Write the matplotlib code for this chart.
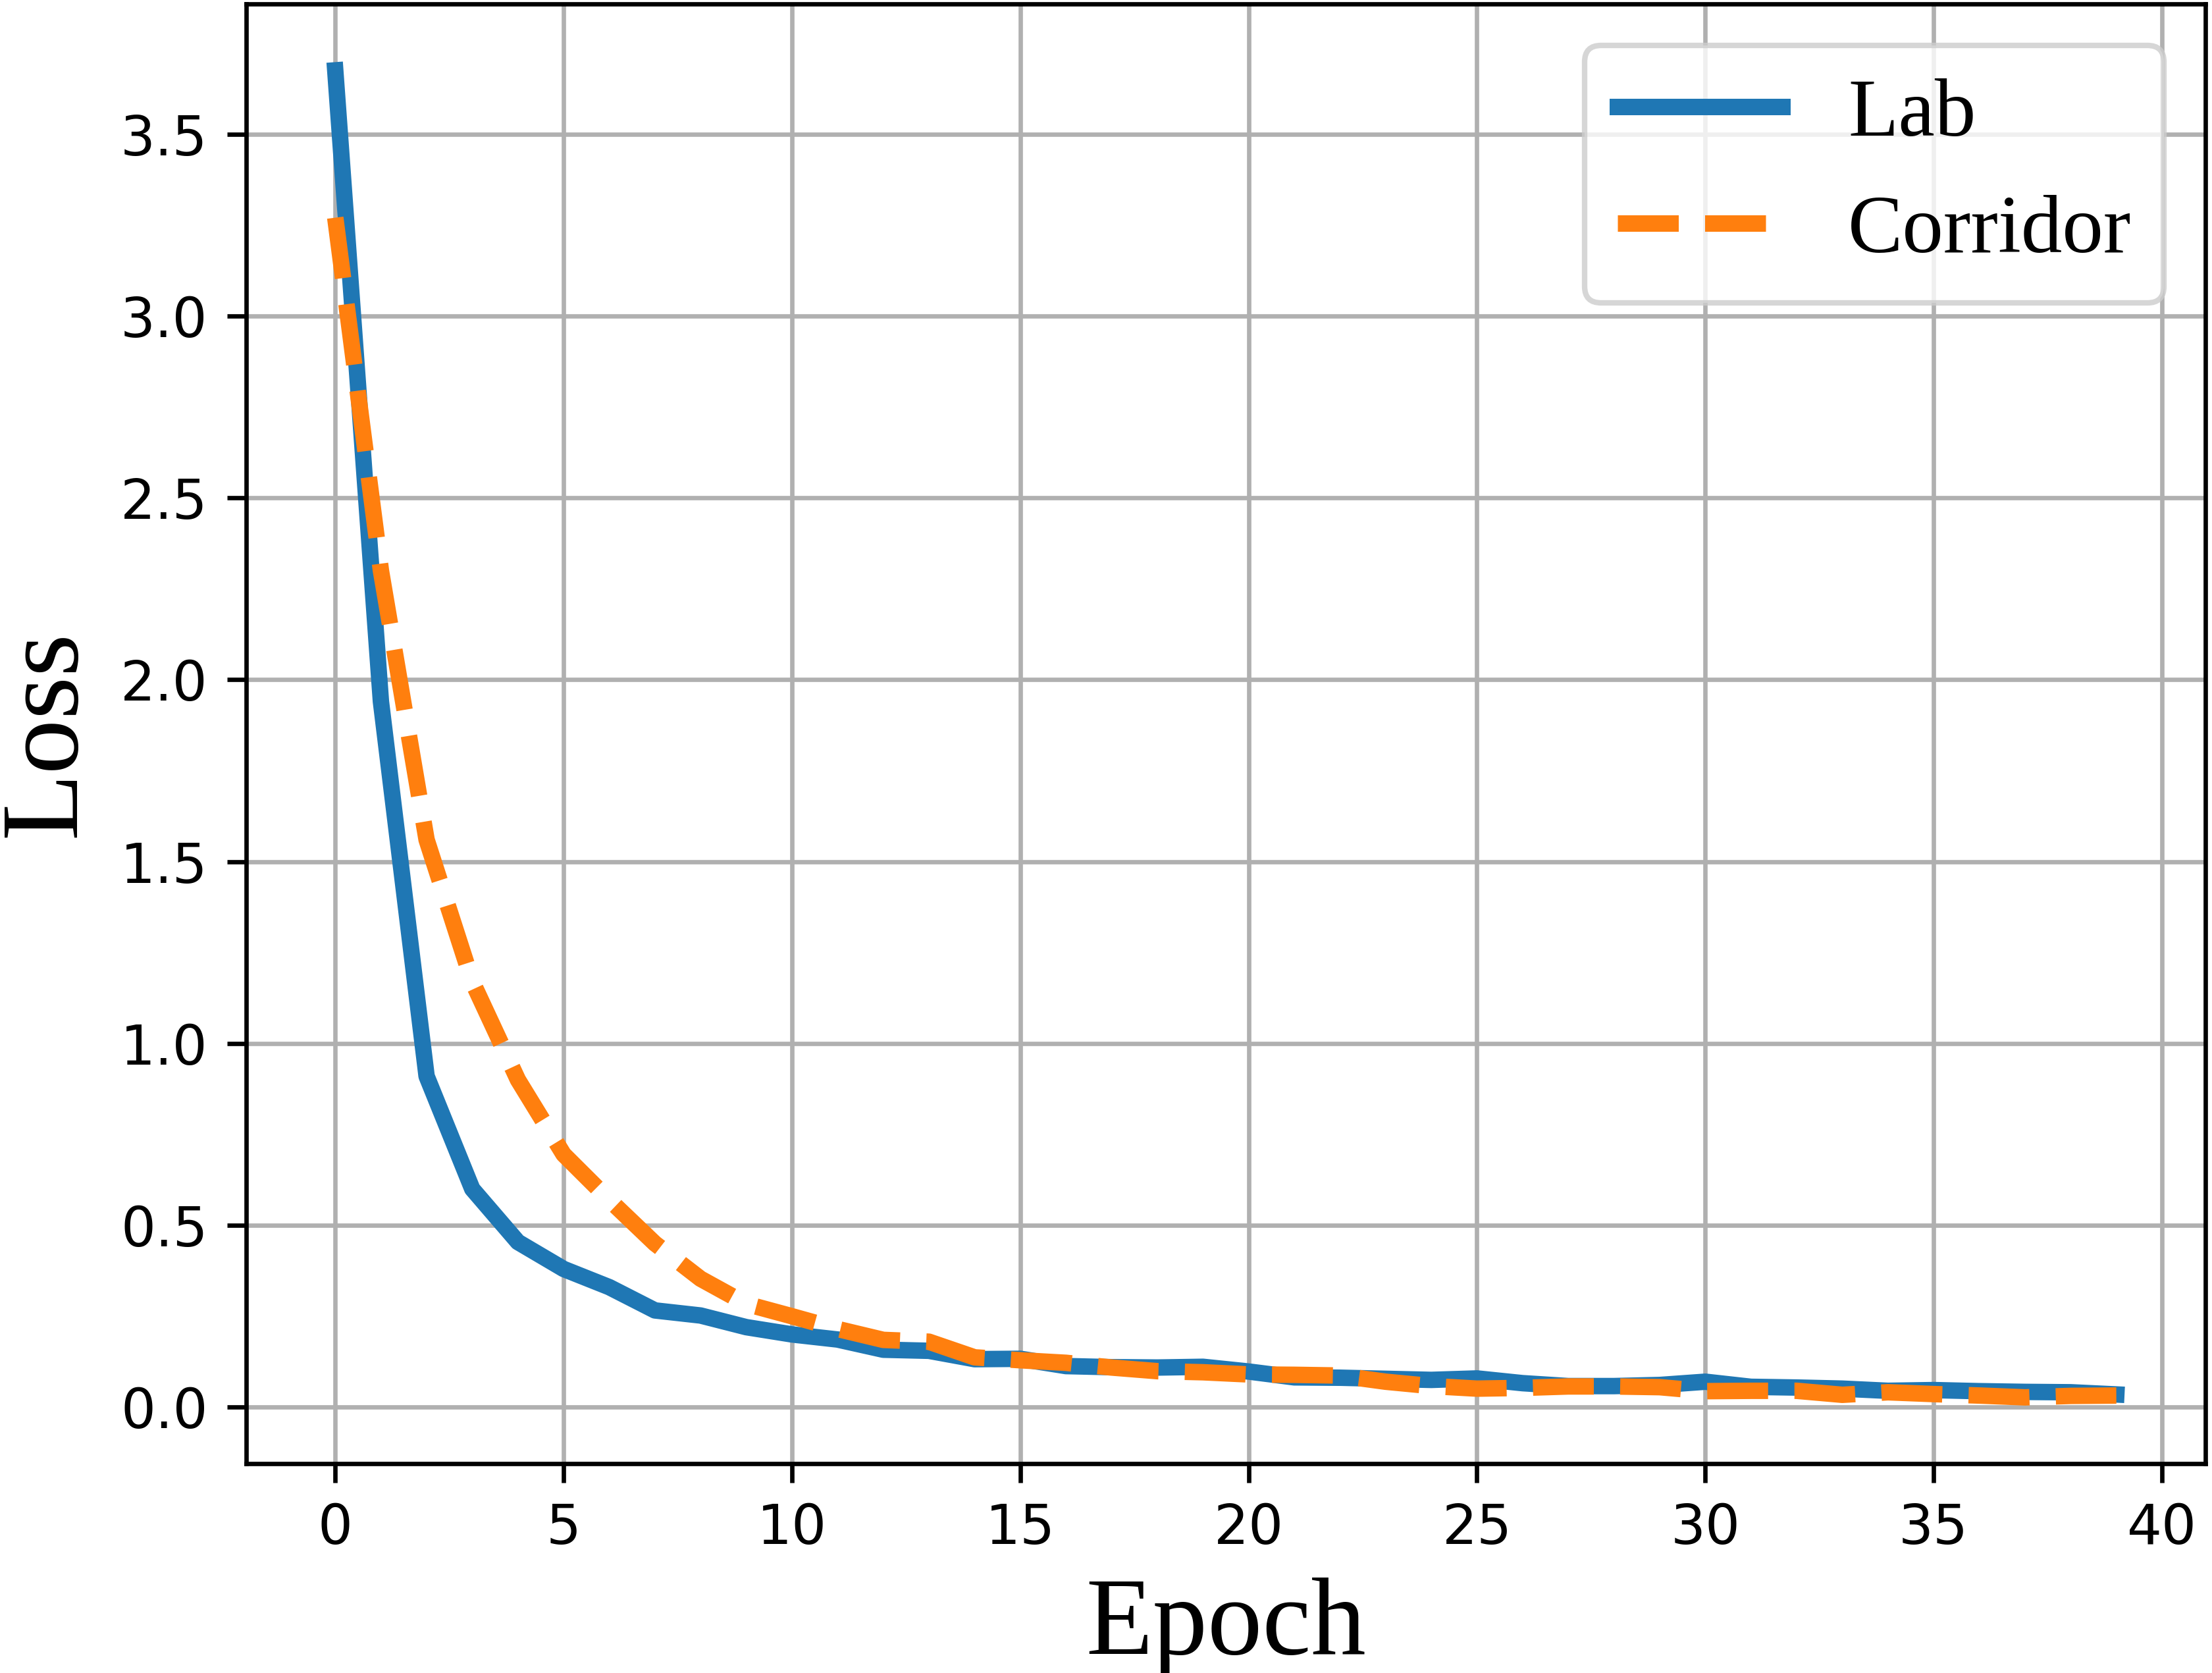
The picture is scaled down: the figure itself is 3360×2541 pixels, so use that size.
import numpy as np
import matplotlib
matplotlib.use("Agg")
import matplotlib.pyplot as plt

# Loss por época
epochs = np.arange(40)
lab_loss = [3.675, 1.94, 0.91, 0.60, 0.454, 0.38, 0.33, 0.266, 0.252, 0.22,
            0.20, 0.186, 0.158, 0.155, 0.132, 0.133, 0.113, 0.11, 0.109, 0.111,
            0.098, 0.082, 0.081, 0.078, 0.075, 0.079, 0.066, 0.058, 0.058, 0.061,
            0.070, 0.056, 0.054, 0.051, 0.045, 0.047, 0.044, 0.042, 0.041, 0.035]
corridor_loss = [3.27, 2.30, 1.56, 1.17, 0.90, 0.695, 0.57, 0.45, 0.353, 0.284,
                 0.25, 0.215, 0.185, 0.18, 0.137, 0.129, 0.122, 0.109, 0.099, 0.096,
                 0.09, 0.089, 0.087, 0.070, 0.058, 0.051, 0.053, 0.057, 0.057, 0.055,
                 0.044, 0.045, 0.045, 0.034, 0.041, 0.036, 0.032, 0.027, 0.031, 0.032]

serif = ["Liberation Serif", "DejaVu Serif"]

fig = plt.figure(figsize=(5.6, 4.235))
ax = fig.add_axes([0.1113, 0.1251, 0.8857, 0.8725])

ax.plot(epochs, lab_loss, "-", color="#1f77b4", linewidth=3, label="Lab")
ax.plot(epochs, corridor_loss, "--", color="#ff7f0e", linewidth=3, label="Corridor")

ax.set_xlabel("Epoch", fontsize=20, family=serif)
ax.set_ylabel("Loss", fontsize=20, family=serif)
ax.tick_params(labelsize=10)
ax.grid(True)
ax.legend(loc="upper right", prop={"family": serif, "size": 15})

fig.savefig("out.png", dpi=600)
